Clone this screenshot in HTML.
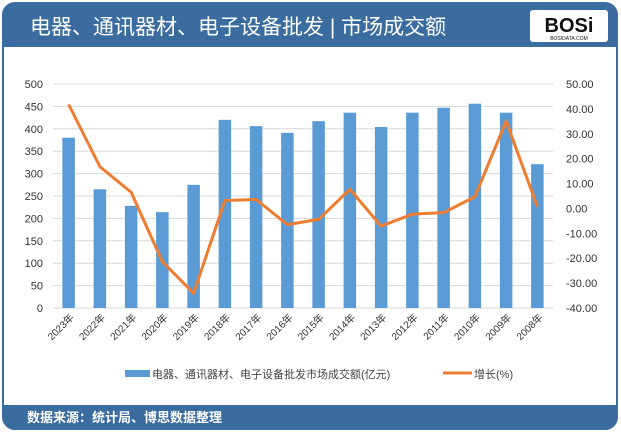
<!DOCTYPE html>
<html><head><meta charset="utf-8"><style>
body{margin:0;background:#fff;width:621px;height:434px;overflow:hidden;font-family:"Liberation Sans","Noto Sans CJK SC",sans-serif}
</style></head><body>
<svg id="c" width="621" height="434" xmlns="http://www.w3.org/2000/svg">
<rect x="3" y="3" width="614" height="426" rx="12" fill="#fff" stroke="#3a6ca0" stroke-width="2"/>
<path d="M3,47 V15 a12,12 0 0 1 12,-12 H605 a12,12 0 0 1 12,12 V47 Z" fill="#3a6ca0"/>
<text x="30" y="34" font-size="21" fill="#fff">电器、通讯器材、电子设备批发 | 市场成交额</text>
<g>
<rect x="530" y="10" width="78" height="32" rx="3" fill="#fff"/>
<text x="569" y="32" font-size="20" font-weight="bold" text-anchor="middle" fill="#111" font-family="Liberation Sans,sans-serif">BOSi</text>
<text x="569" y="40" font-size="5" text-anchor="middle" fill="#111">BOSIDATA.COM</text>
</g>
<path d="M3,405 H617 V417 a12,12 0 0 1 -12,12 H15 a12,12 0 0 1 -12,-12 Z" fill="#3a6ca0"/>
<text x="27" y="422" font-size="13" font-weight="bold" fill="#fff">数据来源：统计局、博思数据整理</text>
<g id="plot"></g>
<g>
<rect x="125" y="370" width="25" height="7" fill="#5b9bd5"/>
<text x="152" y="378" font-size="11" fill="#444">电器、通讯器材、电子设备批发市场成交额(亿元)</text>
<line x1="443" y1="373" x2="472" y2="373" stroke="#ed7d31" stroke-width="3"/>
<text x="474" y="378" font-size="11" fill="#444">增长(%)</text>
</g>
</svg>
<script>
const categories=["2023年","2022年","2021年","2020年","2019年","2018年","2017年","2016年","2015年","2014年","2013年","2012年","2011年","2010年","2009年","2008年"];
const barValues=[380,265,228,214,275,420,406,391,417,436,404,436,447,456,436,321];
const growthValues=[41.8,16.8,6.5,-21.4,-34.1,3.2,3.6,-6.5,-4.4,7.7,-7.1,-2.3,-1.7,4.7,35.1,0.7];
const leftTicks=[0,50,100,150,200,250,300,350,400,450,500];
const rightTicks=[-40,-30,-20,-10,0,10,20,30,40,50];
const NS="http://www.w3.org/2000/svg";
const g=document.getElementById('plot');
const X0=53,X1=553,Y0=308,Y1=84;
const yL=v=>Y0-(v/500)*(Y0-Y1);
const yR=v=>Y0-((v+40)/90)*(Y0-Y1);
const step=(X1-X0)/categories.length;
const xc=i=>X0+step*(i+0.5);
function mk(t,a){const e=document.createElementNS(NS,t);for(const k in a)e.setAttribute(k,a[k]);g.appendChild(e);return e;}
leftTicks.forEach(v=>{
 const l=mk('line',{x1:X0,x2:X1,y1:yL(v),y2:yL(v),stroke:'#d9d9d9','stroke-width':1});
 
 
 const t=mk('text',{x:X0-10,y:yL(v)+4,'font-size':11,'text-anchor':'end',fill:'#333'});t.textContent=v;
 
 
});
rightTicks.forEach(v=>{
 const t=mk('text',{x:566,y:yR(v)+4,'font-size':11,fill:'#333'});t.textContent=v.toFixed(2);
 
 
});
categories.forEach((c,i)=>{
 const bw=step*0.4;
 const r=mk('rect',{x:xc(i)-bw/2,y:yL(barValues[i]),width:bw,height:Y0-yL(barValues[i]),fill:'#5b9bd5'});
 
 
 const t=mk('text',{x:xc(i)+6,y:Y0+10,'font-size':10,'text-anchor':'end',fill:'#333',transform:`rotate(-45 ${xc(i)+6} ${Y0+10})`});t.textContent=c;
 
 
});
const pts=growthValues.map((v,i)=>xc(i)+','+yR(v)).join(' ');
const pl=mk('polyline',{points:pts,fill:'none',stroke:'#ed7d31','stroke-width':3,'stroke-linejoin':'round'});


</script>
</body></html>
